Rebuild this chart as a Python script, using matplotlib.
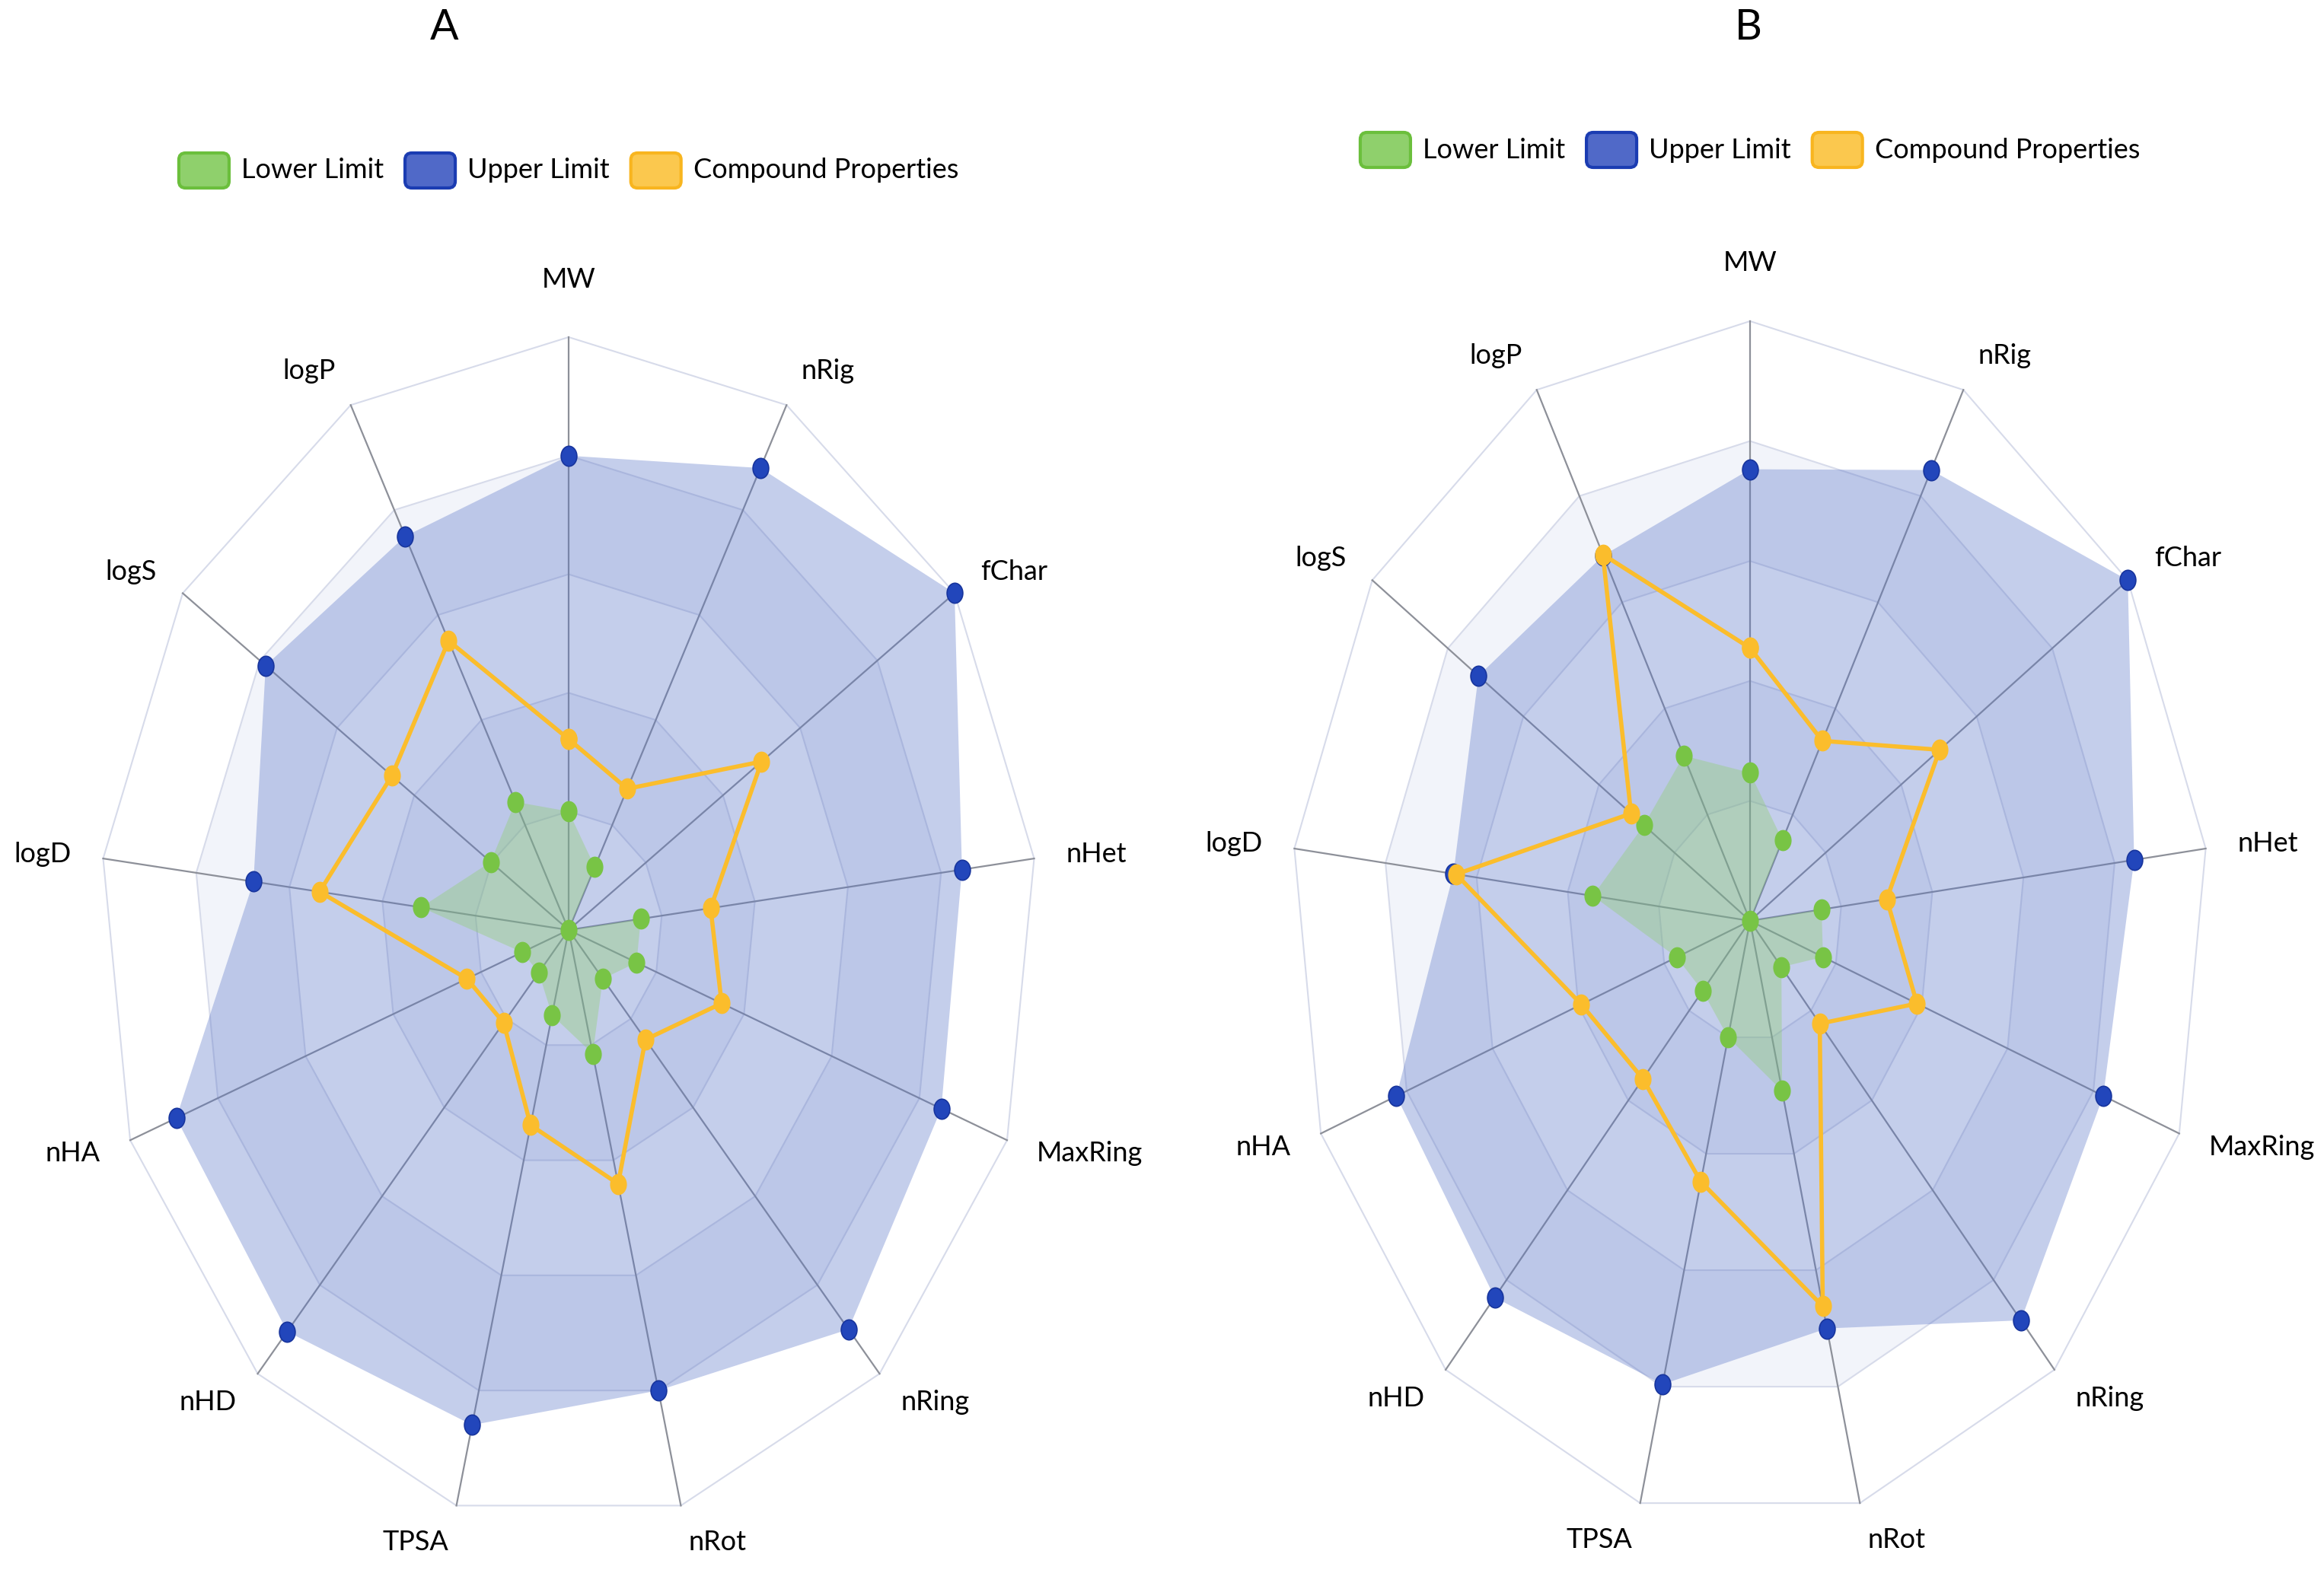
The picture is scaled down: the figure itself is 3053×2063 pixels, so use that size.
import numpy as np
import matplotlib
matplotlib.use("Agg")
import matplotlib.pyplot as plt
from matplotlib.patches import FancyBboxPatch
from matplotlib.path import Path
from matplotlib.markers import MarkerStyle
from matplotlib.transforms import Affine2D

W, H = 3053, 2063

# radar indicators, clockwise from the top
indicators = ['MW', 'nRig', 'fChar', 'nHet', 'MaxRing', 'nRing', 'nRot',
              'TPSA', 'nHD', 'nHA', 'logD', 'logS', 'logP']

# values as fraction of each indicator's max
lower_a = [0.20, 0.12, 0.00, 0.155, 0.155, 0.11, 0.215, 0.148, 0.096, 0.106, 0.317, 0.202, 0.244]
upper_a = [0.80, 0.88, 1.00, 0.845, 0.85, 0.90, 0.80, 0.86, 0.905, 0.895, 0.677, 0.785, 0.75]
comp_a = [0.322, 0.269, 0.50, 0.305, 0.349, 0.247, 0.441, 0.339, 0.209, 0.232, 0.535, 0.458, 0.551]

lower_b = [0.247, 0.152, 0.00, 0.157, 0.17, 0.103, 0.292, 0.20, 0.156, 0.171, 0.345, 0.281, 0.311]
upper_b = [0.753, 0.849, 1.00, 0.843, 0.823, 0.89, 0.70, 0.796, 0.839, 0.824, 0.651, 0.719, 0.688]
comp_b = [0.455, 0.339, 0.502, 0.300, 0.389, 0.229, 0.662, 0.448, 0.352, 0.393, 0.645, 0.315, 0.69]

legend_names = ['Lower Limit', 'Upper Limit', 'Compound Properties']
levels = [1.0, 0.8, 0.6, 0.4, 0.2]

green = '#78c445'
blue = '#2246bb'
yellow = '#fbbd2c'
green_fill = '#8fd06a'
blue_fill = '#5470c6'
band_colors = ['#ffffff', '#f2f4fa']
ring_color = '#d7dbea'
spoke_color = '#8d9099'
font = ['Lato', 'DejaVu Sans']

# the original picture is stretched vertically, so markers are ovals
oval = MarkerStyle(Path.unit_circle().transformed(Affine2D().scale(1.0, 1.27)))

fig = plt.figure(figsize=(W / 100, H / 100), dpi=100)
fig.patch.set_facecolor('white')

# overlay axes in pixel coords for titles and legends
ov = fig.add_axes([0, 0, 1, 1])
ov.set_xlim(0, W)
ov.set_ylim(H, 0)
ov.axis('off')


def draw_radar(cx, cy, rx, ry, lower, upper, comp):
    lim = 1.25
    ax = fig.add_axes([(cx - lim * rx) / W, (H - cy - lim * ry) / H,
                       2 * lim * rx / W, 2 * lim * ry / H])
    ax.set_xlim(-lim, lim)
    ax.set_ylim(-lim, lim)
    ax.axis('off')
    ax.patch.set_alpha(0)

    n = len(indicators)
    ang = np.arange(n) * 2 * np.pi / n
    s, c = np.sin(ang), np.cos(ang)

    # split areas and split lines
    for i, lev in enumerate(levels):
        ax.fill(lev * s, lev * c, color=band_colors[i % 2], lw=0, zorder=1)
        ax.plot(np.append(lev * s, lev * s[0]), np.append(lev * c, lev * c[0]),
                color=ring_color, lw=1.5, zorder=2)
    for k in range(n):
        ax.plot([0, s[k]], [0, c[k]], color=spoke_color, lw=1.6, zorder=3)

    up = np.array(upper)
    lo = np.array(lower)
    cp = np.array(comp)
    ax.fill(up * s, up * c, color=blue_fill, alpha=0.34, lw=0, zorder=4)
    ax.fill(lo * s, lo * c, color=green_fill, alpha=0.36, lw=0, zorder=5)
    ax.plot(up * s, up * c, ls='none', marker=oval, ms=19, mfc=blue,
            mec='#18359d', mew=1.2, zorder=6)
    ax.plot(lo * s, lo * c, ls='none', marker=oval, ms=19, mfc=green,
            mec=green, zorder=6)
    ax.plot(np.append(cp * s, cp[0] * s[0]), np.append(cp * c, cp[0] * c[0]),
            color=yellow, lw=4, marker=oval, ms=19, mfc=yellow, mec=yellow, zorder=7)

    # indicator names
    gx, gy = 42 / rx, 50 / ry
    for k, name in enumerate(indicators):
        if abs(s[k]) < 0.01:
            ax.text(0, 1 + 76 / ry, name, ha='center', va='center',
                    fontsize=26, family=font, color='black')
            continue
        ha = 'left' if s[k] > 0 else 'right'
        ax.text(s[k] * (1 + gx), c[k] * (1 + gy), name, ha=ha, va='center',
                fontsize=26, family=font, color='black')
    return ax


def draw_legend(cx, cy):
    r = fig.canvas.get_renderer()
    faces = ['#8fd06c', '#5069c8', '#fbc84e']
    edges = ['#6bbf3c', '#1b3cb2', '#f8b51f']
    box_w, box_h, pad, gap = 66, 46, 16, 28
    items = []
    for name in legend_names:
        t = ov.text(0, cy, name, ha='left', va='center', fontsize=26,
                    family=font, color='black')
        items.append((t, t.get_window_extent(renderer=r).width))
    total = sum(box_w + pad + tw for _, tw in items) + gap * (len(items) - 1)
    x = cx - total / 2
    for (t, tw), fc, ec in zip(items, faces, edges):
        ov.add_patch(FancyBboxPatch((x, cy - box_h / 2), box_w, box_h,
                                    boxstyle='round,pad=0,rounding_size=9',
                                    fc=fc, ec=ec, lw=3))
        t.set_x(x + box_w + pad)
        x += box_w + pad + tw + gap


draw_radar(747, 1222, 616, 779, lower_a, upper_a, comp_a)
draw_radar(2299, 1210, 603, 788, lower_b, upper_b, comp_b)

ov.text(584, 36, 'A', ha='center', va='center', fontsize=40, family=font,
        color='black')
ov.text(2297, 36, 'B', ha='center', va='center', fontsize=40, family=font,
        color='black')
draw_legend(747, 224)
draw_legend(2299, 197)

fig.savefig('out.png', dpi=100, facecolor='white')
